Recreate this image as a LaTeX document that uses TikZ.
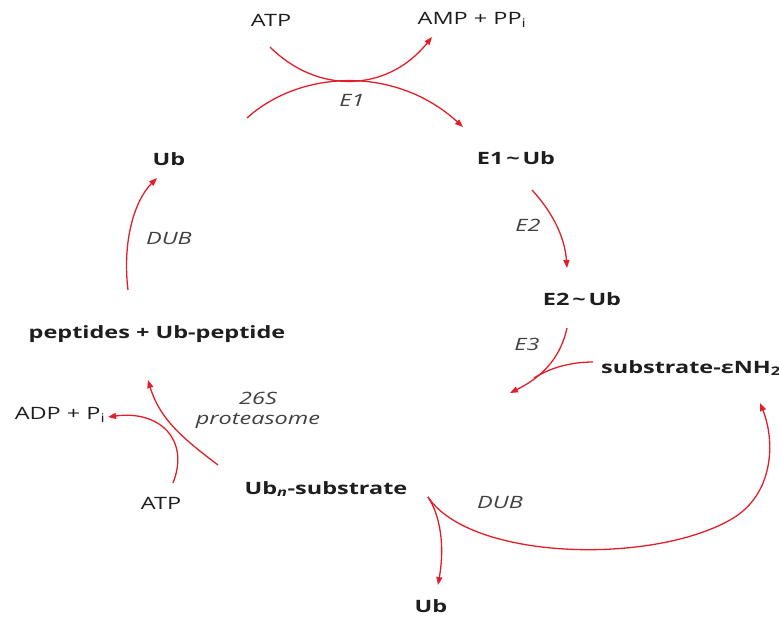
\documentclass[tikz,border=0pt]{standalone}
\usepackage{fontspec}
\setmainfont{Open Sans}[FakeStretch=1.38]
\usetikzlibrary{arrows.meta, positioning}
\definecolor{ubred}{RGB}{228,30,40}
\definecolor{ubtext}{RGB}{30,30,30}

\begin{document}
\begin{tikzpicture}[x=1pt, y=-1pt,
    species/.style={font=\fontsize{17}{20}\selectfont\bfseries, text=ubtext, inner sep=1pt},
    cofactor/.style={font=\fontsize{17}{20}\selectfont, text=ubtext, inner sep=1pt},
    enzyme/.style={font=\fontsize{17}{20}\selectfont\itshape, text=ubtext!85, inner sep=1pt, align=center},
    rxn/.style={draw=ubred, line width=1.3pt, -{Triangle[length=8pt, width=6pt]}},
    side/.style={draw=ubred, line width=1.3pt}]
    \useasboundingbox (0,0) rectangle (779,618);

    % species round the cycle
    \node (ub_top) [species] at (169,159) {Ub};
    \node (e1_ub) [species] at (516,158) {E1\,\textasciitilde\,Ub};
    \node (e2_ub) [species] at (582,299) {E2\,\textasciitilde\,Ub};
    \node (substrate) [species] at (691,368) {substrate-εNH\textsubscript{2}};
    \node (ubn_sub) [species] at (326,489) {Ub\textsubscript{\itshape n}-substrate};
    \node (ub_free) [species] at (431,606) {Ub};
    \node (peptides) [species] at (157,334) {peptides + Ub-peptide};

    % cofactors
    \node (atp_top) [cofactor] at (271,20) {ATP};
    \node (amp) [cofactor] at (472,20) {AMP + PP\textsubscript{i}};
    \node (atp_low) [cofactor] at (161,503) {ATP};
    \node (adp) [cofactor] at (60,415) {ADP + P\textsubscript{i}};

    % enzymes
    \node (e1) [enzyme] at (352,100) {E1};
    \node (e2) [enzyme] at (528,225) {E2};
    \node (e3) [enzyme] at (527,344) {E3};
    \node (dub_left) [enzyme] at (169,239) {DUB};
    \node (dub_low) [enzyme] at (500,503) {DUB};
    \node (proteasome) [enzyme] at (258,410) {26S\\proteasome};

    % arrow ends
    \coordinate (ub_out) at (247,118);
    \coordinate (e1_in) at (463,127);
    \coordinate (atp_out) at (270,47);
    \coordinate (amp_in) at (432,37);
    \coordinate (e1_out) at (532,190);
    \coordinate (e2_in) at (567,268);
    \coordinate (e2_out) at (567,328);
    \coordinate (ubn_in) at (510,393);
    \coordinate (sub_out) at (593,362);
    \coordinate (e3_join) at (534,378);
    \coordinate (ubn_out) at (428,497);
    \coordinate (ub_in) at (438,585);
    \coordinate (sub_in) at (760,403);
    \coordinate (ubn_pro) at (218,465);
    \coordinate (pep_in) at (148,380);
    \coordinate (atp_in) at (173,483);
    \coordinate (adp_in) at (108,417);
    \coordinate (pep_out) at (128,290);
    \coordinate (ub_top_in) at (157,178);

    % E1
    \draw[rxn] (ub_out) .. controls (300,70) and (395,65) .. (e1_in);
    \draw[rxn] (atp_out) .. controls (318,95) and (388,92) .. (amp_in);
    % E2, E3
    \draw[rxn] (e1_out) .. controls (555,215) and (565,240) .. (e2_in);
    \draw[rxn] (e2_out) .. controls (560,360) and (540,378) .. (ubn_in);
    \draw[side] (sub_out) .. controls (570,362) and (550,368) .. (e3_join);
    % DUB on the conjugate
    \draw[rxn] (ubn_out) .. controls (440,515) and (445,545) .. (ub_in);
    \draw[rxn] (ubn_out) .. controls (470,560) and (650,565) .. (730,520)
        .. controls (775,495) and (775,440) .. (sub_in);
    % proteasome
    \draw[rxn] (ubn_pro) .. controls (185,440) and (160,420) .. (pep_in);
    \draw[rxn] (atp_in) .. controls (190,440) and (160,410) .. (adp_in);
    % DUB on the peptides
    \draw[rxn] (pep_out) .. controls (122,240) and (135,200) .. (ub_top_in);
\end{tikzpicture}
\end{document}
